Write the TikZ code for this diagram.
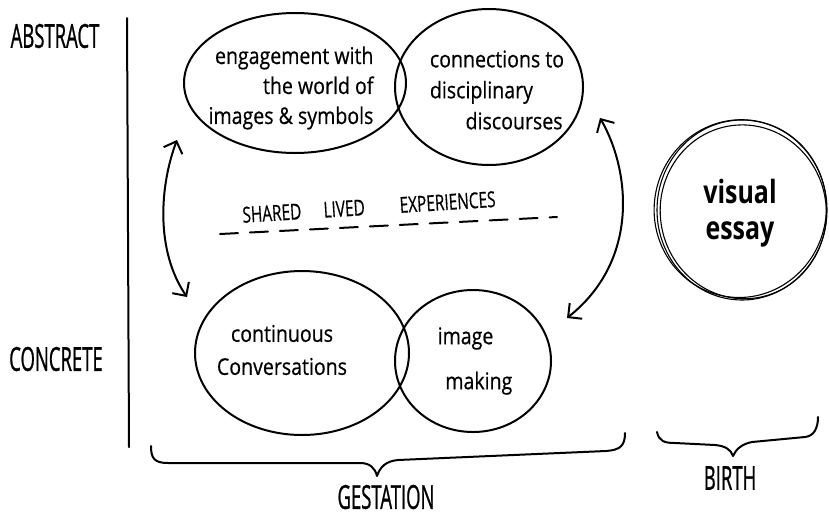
\documentclass[tikz,border=0pt]{standalone}
\usepackage{fontspec}
\setmainfont{Open Sans}
\newfontfamily\handfont[FakeBold=0.6]{Open Sans}
\newfontfamily\capsfont[FakeBold=1.2]{Open Sans}
\usetikzlibrary{shapes.geometric,arrows.meta}
\begin{document}
\begin{tikzpicture}[x=1pt,y=-1pt,
  ink/.style={line width=2pt, line cap=round, line join=round},
  blob/.style={ellipse, draw, ink, inner sep=0pt},
  hand/.style={inner sep=0pt, xscale=0.85, transform shape},
  caps/.style={font=\capsfont\fontsize{33}{33}\selectfont, xscale=0.56, transform shape, inner sep=0pt},
  twoway/.style={ink, {Straight Barb[length=10pt,width=20pt]}-{Straight Barb[length=10pt,width=20pt]}},
]
\useasboundingbox (0,0) rectangle (829,517);

% axis labels and the vertical axis
\node[caps] (abs) at (55,36) {ABSTRACT};
\node[caps] (conc) at (56,359) {CONCRETE};
\draw[ink] (127,18) -- (129,447);

% upper pair of overlapping circles
\node[blob, minimum width=222pt, minimum height=140pt] (eng) at (295,83) {};
\node[hand, align=right, font=\handfont\fontsize{23}{30}\selectfont] (engt) at ([xshift=-4pt,yshift=-5pt]eng.center)
  {engagement with\\the world of\\images \& symbols};
\node[blob, minimum width=188pt, minimum height=156pt] (dis) at (489,87) {};
\node[hand, align=left, font=\handfont\fontsize{23}{31}\selectfont] (dist) at ([xshift=8pt,yshift=-3pt]dis.center)
  {connections to\\disciplinary\\\hspace*{42pt}discourses};

% shared lived experiences
\node[font=\handfont\fontsize{22}{22}\selectfont, rotate=3.6, xscale=0.7, transform shape, inner sep=0pt] (shared) at (369,207)
  {SHARED\hspace{32pt}LIVED\hspace{50pt}EXPERIENCES};
\draw[ink, dash pattern=on 18pt off 12pt] (220,234) -- (557,217);

% lower pair of overlapping circles
\node[blob, minimum width=214pt, minimum height=164pt] (con) at (302,353) {};
\node[hand, align=center, font=\handfont\fontsize{23}{33}\selectfont] (cont) at ([xshift=-20pt,yshift=3pt]con.center)
  {continuous\\Conversations};
\node[blob, minimum width=156pt, minimum height=142pt] (img) at (473,361) {};
\node[hand, align=left, font=\handfont\fontsize{23}{45}\selectfont] (imgt) at ([xshift=2pt]img.center)
  {image\\\hspace*{9pt}making};

% two-way arrows between the levels
\coordinate (lt) at (177,140);
\coordinate (lb) at (187,297);
\coordinate (rt) at (600,118);
\coordinate (rb) at (567,318);
\draw[twoway] (lt) .. controls (160,185) and (155,250) .. (lb);
\draw[twoway] (rt) .. controls (630,170) and (640,260) .. (rb);

% visual essay, a circle traced several times
\node[ellipse, draw, line width=1.1pt, minimum width=170pt, minimum height=180pt, inner sep=0pt] (ve) at (742,210) {};
\draw[line width=1.1pt, rotate around={8:(ve.center)}] ([shift={(1,2)}]ve.center) ellipse [x radius=83pt, y radius=87pt];
\draw[line width=1.1pt, rotate around={-12:(ve.center)}] ([shift={(-2,-1)}]ve.center) ellipse [x radius=86pt, y radius=89pt];
\node[font=\bfseries\fontsize{32}{36}\selectfont, xscale=0.78, transform shape, align=center, inner sep=0pt] (vet) at (740,213) {visual\\essay};

% braces
\draw[ink] (151,446) .. controls (151,458) and (154,463) .. (168,463) -- (360,463)
  .. controls (370,463) and (375,468) .. (377,476)
  .. controls (380,467) and (386,461) .. (398,460) -- (606,451)
  .. controls (620,450) and (625,446) .. (625,433);
\node[caps] (gest) at (386,497) {GESTATION};

\draw[ink] (657,432) .. controls (659,441) and (664,443) .. (675,443) -- (715,445)
  .. controls (726,446) and (731,450) .. (733,456)
  .. controls (736,449) and (742,444) .. (752,442) -- (805,437)
  .. controls (814,436) and (818,428) .. (818,417);
\node[caps] (birth) at (730,478) {BIRTH};
\end{tikzpicture}
\end{document}
